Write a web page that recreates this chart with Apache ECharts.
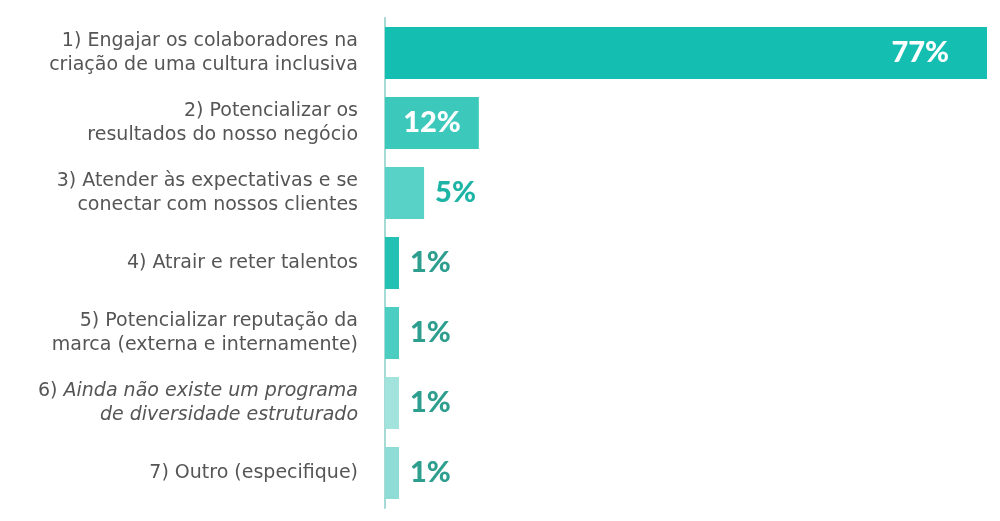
<!DOCTYPE html>
<html><head><meta charset="utf-8">
<script src="https://cdn.jsdelivr.net/npm/echarts@6/dist/echarts.min.js"></script>
<style>html,body{margin:0;padding:0;background:#fff}#c{width:1000px;height:521px}</style>
</head><body><div id="c"></div>
<script>
const categories = [
  "1) Engajar os colaboradores na\ncriação de uma cultura inclusiva",
  "2) Potencializar os\nresultados do nosso negócio",
  "3) Atender às expectativas e se\nconectar com nossos clientes",
  "4) Atrair e reter talentos",
  "5) Potencializar reputação da\nmarca (externa e internamente)",
  "6) {i|Ainda não existe um programa}\n{i|de diversidade estruturado}",
  "7) Outro (especifique)"
];
const values = [77, 12, 5, 1, 1, 1, 1];
const barColors = ["#14BFB1", "#3CC9BC", "#58D1C6", "#22C1B3", "#4CCDC1", "#A2E3DD", "#8EDCD5"];
const labelInside = [true, true, false, false, false, false, false];
const labelColors = ["#ffffff", "#ffffff", "#1DB3A5", "#2E9E8F", "#2E9E8F", "#2E9E8F", "#2E9E8F"];
const insideDist = [38, 18];

const chart = echarts.init(document.getElementById('c'));
chart.setOption({
  animation: false,
  grid: { left: 385, right: 13, top: 18, bottom: 13 },
  xAxis: { type: 'value', min: 0, max: 77, show: false },
  yAxis: {
    type: 'category', inverse: true, data: categories,
    axisLine: { show: true, lineStyle: { color: '#A6DBD5', width: 2 } },
    axisTick: { show: false },
    axisLabel: {
      margin: 27, color: '#555555', fontSize: 19, lineHeight: 24,
      fontFamily: 'DejaVu Sans', align: 'right',
      rich: { i: { fontStyle: 'italic', color: '#555555', fontSize: 19, fontFamily: 'DejaVu Sans', lineHeight: 24 } }
    }
  },
  series: [{
    type: 'bar', barWidth: 52, barMinHeight: 14,
    data: values.map((v, i) => ({
      value: v,
      itemStyle: { color: barColors[i] },
      label: {
        show: true,
        position: labelInside[i] ? 'insideRight' : 'right',
        distance: labelInside[i] ? insideDist[i] : 11,
        color: labelColors[i],
        fontSize: 29, fontWeight: 900, fontFamily: 'Lato',
        formatter: '{c}%'
      }
    }))
  }]
});
</script></body></html>
